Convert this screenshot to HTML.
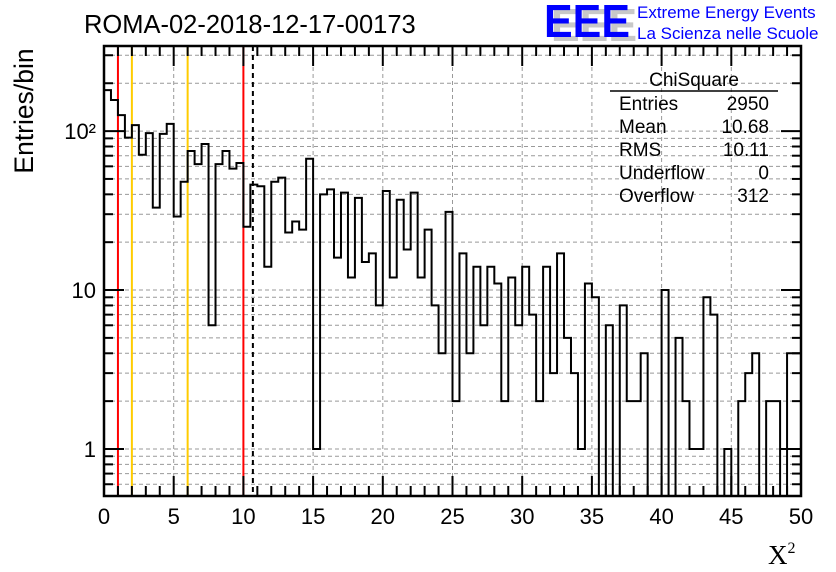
<!DOCTYPE html>
<html><head><meta charset="utf-8">
<style>
html,body{margin:0;padding:0;background:#fff;}
svg{display:block;font-family:"Liberation Sans",sans-serif;}
</style></head>
<body>
<svg id="chart" width="836" height="572" viewBox="0 0 836 572">
  <rect x="0" y="0" width="836" height="572" fill="#fff"/>
  <g id="grid"></g>
  <g id="vlines"></g>
  <path id="hist" fill="none" stroke="#000" stroke-width="2"/>
  <g id="axes"></g>
  <text x="84" y="33" font-size="25.5" fill="#000">ROMA-02-2018-12-17-00173</text>
  <g>
    <text x="551" y="41" font-size="46" font-weight="bold" fill="#c8c8c8" textLength="86" lengthAdjust="spacingAndGlyphs">EEE</text>
    <text x="544" y="37" font-size="46" font-weight="bold" fill="#0000ff" textLength="86" lengthAdjust="spacingAndGlyphs">EEE</text>
    <text x="637" y="18" font-size="17" fill="#0000ff">Extreme Energy Events</text>
    <text x="637" y="39" font-size="17" fill="#0000ff">La Scienza nelle Scuole</text>
  </g>
  <g font-size="19" fill="#000">
    <text x="694" y="86" text-anchor="middle">ChiSquare</text>
    <line x1="610" y1="91" x2="778" y2="91" stroke="#000" stroke-width="1.5"/>
    <text x="619" y="110">Entries</text><text x="769" y="110" text-anchor="end">2950</text>
    <text x="619" y="133">Mean</text><text x="769" y="133" text-anchor="end">10.68</text>
    <text x="619" y="156">RMS</text><text x="769" y="156" text-anchor="end">10.11</text>
    <text x="619" y="179">Underflow</text><text x="769" y="179" text-anchor="end">0</text>
    <text x="619" y="202">Overflow</text><text x="769" y="202" text-anchor="end">312</text>
  </g>
  <text transform="translate(33,111) rotate(-90)" text-anchor="middle" font-size="26.5">Entries/bin</text>
  <text x="768" y="564" font-family="'Liberation Serif',serif" font-size="27">X<tspan font-size="16" dy="-11">2</tspan></text>
</svg>
<script>
const counts = [181,157,126,91,109,71,97,33,96,111,29,48,75,62,83,6,62,75,58,63,25,46,45,14,48,51,23,27,24,67,1,40,43,16,41,12,38,15,17,8,42,12,37,18,41,12,24,8,4,31,2,17,4,14,6,14,11,2,12,6,14,7,2,14,3,17,5,3,1,11,9,0,6,0,8,2,2,4,0,0,10,0,5,2,1,1,9,7,0,1,0,2,3,4,0,2,2,0,4,4];
const xTicks = [0,5,10,15,20,25,30,35,40,45,50];
const yMajor = [1,10,100];
const yLabels = ["1","10","10²"];
const refRed = [1,10];
const refOrange = [2,6];
const meanVal = 10.68;
const binWidth = 0.5;

const L=104,R=801,T=46,B=496;
const XMIN=0,XMAX=50,YMIN=0.506,YMAX=343;
const NS='http://www.w3.org/2000/svg';
function sx(v){return L+(v-XMIN)/(XMAX-XMIN)*(R-L);}
function sy(v){return B-(Math.log10(v)-Math.log10(YMIN))/(Math.log10(YMAX)-Math.log10(YMIN))*(B-T);}
function mk(tag,attrs,parent){const e=document.createElementNS(NS,tag);for(const k in attrs)e.setAttribute(k,attrs[k]);parent.appendChild(e);return e;}

const grid=document.getElementById('grid');
const axes=document.getElementById('axes');
const vl=document.getElementById('vlines');

xTicks.forEach(v=>{ if(v>XMIN&&v<XMAX){
  const g=mk('line',{x1:sx(v),x2:sx(v),y1:T,y2:B,stroke:'#999','stroke-width':1,'stroke-dasharray':'4,3'},grid);
  
  
}});
const logVals=[];
for(let d=0.1;d<=100;d*=10){for(let m=1;m<=9;m++){const v=m*d; if(v>YMIN&&v<YMAX) logVals.push(v);}}
logVals.forEach(v=>{
  const y=sy(v);
  const g=mk('line',{x1:L,x2:R,y1:y,y2:y,stroke:'#999','stroke-width':1,'stroke-dasharray':'4,3'},grid);
  
  
  const isMaj=yMajor.some(m=>Math.abs(m-v)<1e-6);
  const len=isMaj?20:9;
  const t1=mk('line',{x1:L,x2:L+len,y1:y,y2:y,stroke:'#000','stroke-width':2},axes);
  
  
  const t2=mk('line',{x1:R,x2:R-len,y1:y,y2:y,stroke:'#000','stroke-width':2},axes);
  
  
});

refRed.forEach(v=>{const l=mk('line',{x1:sx(v),x2:sx(v),y1:T,y2:B,stroke:'#ff0000','stroke-width':2},vl);
  
  });
refOrange.forEach(v=>{const l=mk('line',{x1:sx(v),x2:sx(v),y1:T,y2:B,stroke:'#ffcc00','stroke-width':2},vl);
  
  });
const ml=mk('line',{x1:sx(meanVal),x2:sx(meanVal),y1:T,y2:B,stroke:'#000','stroke-width':2,'stroke-dasharray':'5,4'},vl);



function cy(c){return c>0?Math.min(B,Math.max(T,sy(c))):B;}
let d='';
counts.forEach((c,i)=>{
  const x0=sx(i*binWidth),x1=sx((i+1)*binWidth),y=cy(c);
  if(i===0)d+='M'+x0+','+y; else d+='L'+x0+','+y;
  d+='L'+x1+','+y;
});
document.getElementById('hist').setAttribute('d',d);

for(let v=XMIN;v<=XMAX;v+=1){
  const maj=xTicks.includes(v);
  const len=maj?20:10;
  const a=mk('line',{x1:sx(v),x2:sx(v),y1:B,y2:B-len,stroke:'#000','stroke-width':2},axes);
  
  
  const b=mk('line',{x1:sx(v),x2:sx(v),y1:T,y2:T+len,stroke:'#000','stroke-width':2},axes);
  
  
}
xTicks.forEach(v=>{
  const t=mk('text',{x:sx(v),y:B+28,'text-anchor':'middle','font-size':22},axes);
  t.textContent=String(v);
  
  
});
yMajor.forEach((v,i)=>{
  const t=mk('text',{x:L-8,y:sy(v)+8,'text-anchor':'end','font-size':22},axes);
  t.textContent=yLabels[i];
  
  
});
const fr=mk('rect',{x:L,y:T,width:R-L,height:B-T,fill:'none',stroke:'#000','stroke-width':2.5},axes);


</script>
</body></html>
